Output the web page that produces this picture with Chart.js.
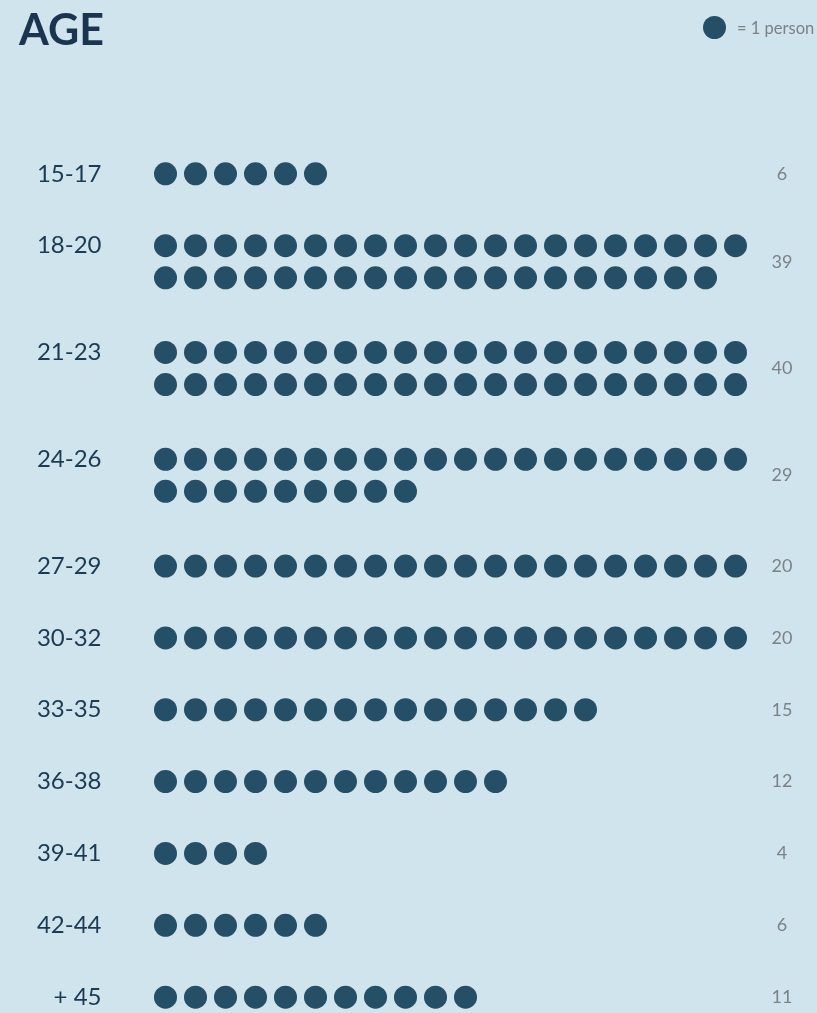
<!DOCTYPE html>
<html>
<head>
<meta charset="utf-8">
<script src="https://cdn.jsdelivr.net/npm/chart.js@4/dist/chart.umd.min.js"></script>
<style>
  html, body { margin: 0; padding: 0; background: #cfe4ec; }
  #wrap { position: relative; width: 817px; height: 1013px; overflow: hidden; }
  #title {
    position: absolute; left: 19px; top: 3px;
    font-family: Lato, sans-serif; font-weight: 700; font-size: 43px;
    color: #1b3550;
  }
  #legend {
    position: absolute; left: 703px; top: 16px; white-space: nowrap;
    font-family: Lato, sans-serif; font-size: 16.5px; color: #7d8286;
    display: flex; align-items: center;
  }
  #legend .dot {
    width: 23px; height: 23px; border-radius: 50%; background: #254f66;
    display: inline-block; margin-right: 11px;
  }
  canvas { position: absolute; left: 0; top: 0; }
</style>
</head>
<body>
<div id="wrap">
  <canvas id="ageChart" width="817" height="1013"></canvas>
  <div id="title">AGE</div>
  <div id="legend"><span class="dot"></span>= 1 person</div>
</div>
<script>
// Age groups and head counts (one dot per person)
const ageGroups = ['15-17', '18-20', '21-23', '24-26', '27-29', '30-32', '33-35', '36-38', '39-41', '42-44', '+ 45'];
const counts = [6, 39, 40, 29, 20, 20, 15, 12, 4, 6, 11];

const perRow = 20;       // dots per line before wrapping
const subRow = 0.446;    // gap between wrapped lines, in group units
const extraGap = 0.04;   // a little more air after wrapped groups

// Work out where each group starts on the y scale
const groupPos = [];
let pos = 0;
counts.forEach((n, i) => {
    const rows = Math.ceil(n / perRow);
    groupPos.push(pos);
    pos += (rows - 1) * subRow + 1 + (rows > 1 ? extraGap : 0);
});
const groupMid = counts.map((n, i) => groupPos[i] + (Math.ceil(n / perRow) - 1) * subRow / 2);

// One point per person
const dots = [];
counts.forEach((n, i) => {
    for (let k = 0; k < n; k++) {
        dots.push({ x: k % perRow, y: groupPos[i] + Math.floor(k / perRow) * subRow });
    }
});

const yRange = { min: -1, max: 11.4 };

new Chart(document.getElementById('ageChart'), {
    type: 'scatter',
    data: {
        datasets: [{
            data: dots,
            backgroundColor: '#254f66',
            borderWidth: 0,
            pointRadius: 11.5,
            pointHoverRadius: 11.5,
            clip: false
        }]
    },
    options: {
        responsive: false,
        devicePixelRatio: 1,
        animation: false,
        events: [],
        layout: { padding: { top: 102, bottom: 20, left: 0, right: 0 } },
        plugins: { legend: { display: false }, tooltip: { enabled: false } },
        scales: {
            x: { type: 'linear', min: -1, max: 20, display: false },
            y: {
                type: 'linear', position: 'left', reverse: true, ...yRange,
                grid: { display: false, tickLength: 34 }, border: { display: false },
                afterFit: (scale) => { scale.width = 135.5; },
                afterBuildTicks: (scale) => { scale.ticks = groupPos.map(v => ({ value: v })); },
                ticks: {
                    autoSkip: false, padding: 0,
                    color: '#1b3a53',
                    font: { family: 'Lato', size: 24 },
                    callback: (value, index) => ageGroups[index]
                }
            },
            yCount: {
                type: 'linear', position: 'right', reverse: true, ...yRange,
                grid: { display: false, tickLength: 6 }, border: { display: false },
                afterFit: (scale) => { scale.width = 51.5; },
                afterBuildTicks: (scale) => { scale.ticks = groupMid.map(v => ({ value: v })); },
                ticks: {
                    autoSkip: false, padding: 0, crossAlign: 'center',
                    color: '#7d8286',
                    font: { family: 'Lato', size: 18 },
                    callback: (value, index) => String(counts[index])
                }
            }
        }
    }
});
</script>
</body>
</html>
